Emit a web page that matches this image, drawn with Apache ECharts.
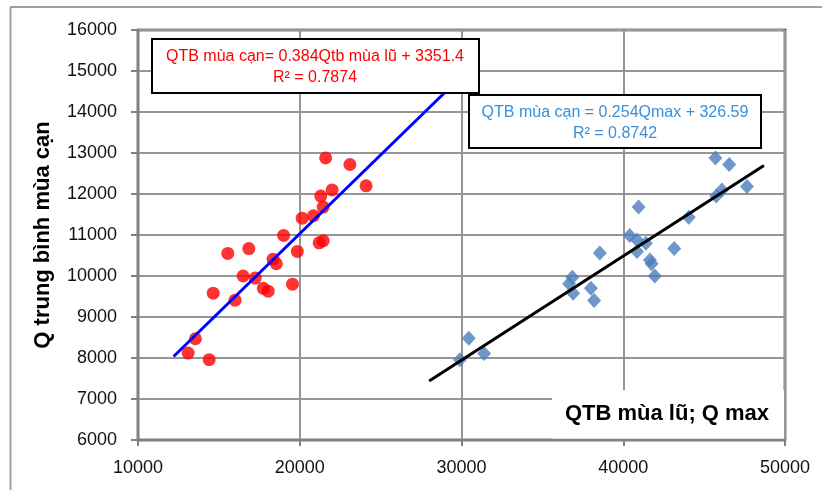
<!DOCTYPE html>
<html>
<head>
<meta charset="utf-8" />
<title>QTB mùa cạn</title>
<style type="text/css">
html{height:100%}
body{height:100%;margin:0px;padding:0px;background:#fff}
#chart{width:822px;height:490px}
</style>
<script src="https://cdn.jsdelivr.net/npm/echarts@6/dist/echarts.min.js"></script>
</head>
<body>
<div id="chart"></div>
<script type="text/javascript">
// QTB mùa lũ -> QTB mùa cạn (red dots)
var floodMean = [21600, 23100, 24100, 22000, 21300, 21450, 20850, 20150, 19000, 19850, 21200, 21450,
	16850, 15550, 18350, 18550, 16500, 17250, 17750, 18050, 19550, 14650, 16000, 13550, 13100, 14400];
var dryMeanA = [12880, 12720, 12200, 12100, 11950, 11680, 11470, 11410, 10990, 10600, 10810, 10860,
	10670, 10550, 10410, 10300, 10000, 9950, 9700, 9630, 9800, 9580, 9410, 8470, 8120, 7960];

// Q max -> QTB mùa cạn (blue diamonds)
var floodMax = [45700, 46550, 47650, 46100, 45750, 40950, 44050, 40400, 40850, 41400, 40850, 43150,
	38550, 41650, 41750, 41950, 36850, 36650, 36900, 38000, 38200, 30450, 31400, 29900];
var dryMeanB = [12880, 12720, 12180, 12100, 11950, 11680, 11430, 10990, 10880, 10800, 10600, 10670,
	10560, 10390, 10300, 10000, 9970, 9810, 9580, 9700, 9400, 8480, 8110, 7960];

// trendline ends
var fitA = [[12200, 8036], [29000, 14487]];
var fitB = [[28000, 7439], [48700, 12696]];

var xTicks = [10000, 50000, 10000];
var yTicks = [6000, 16000, 1000];

function pairs(xs, ys){
	var out = [];
	for(var i = 0; i < xs.length; i++){
		out.push([xs[i], ys[i]]);
	}
	return out;
}

var FONT = '"Liberation Sans", Arial, sans-serif';
var gridGray = '#969696';
var axisGray = '#808080';

var chart = echarts.init(document.getElementById('chart'));
var option = {
	animation: false,
	backgroundColor: '#fff',
	grid: {
		left: 138, right: 37, top: 30, bottom: 50,
		show: true,
		borderColor: '#000',
		borderWidth: 2.5,
		backgroundColor: 'transparent'
	},
	xAxis: {
		type: 'value',
		min: xTicks[0], max: xTicks[1], interval: xTicks[2],
		axisLine: {onZero: false, lineStyle: {color: axisGray, width: 2}},
		axisTick: {show: true, inside: false, length: 6, lineStyle: {color: axisGray, width: 2}},
		axisLabel: {margin: 19, color: '#111', fontSize: 18, fontFamily: FONT,
			formatter: function(v){ return String(v); }},
		splitLine: {show: true, lineStyle: {color: gridGray, width: 2}}
	},
	yAxis: {
		type: 'value',
		min: yTicks[0], max: yTicks[1], interval: yTicks[2],
		name: 'Q trung bình mùa cạn',
		nameLocation: 'middle',
		nameGap: 84,
		nameTextStyle: {fontSize: 22, fontWeight: 'bold', color: '#000', fontFamily: FONT},
		axisLine: {show: true, onZero: false, lineStyle: {color: axisGray, width: 2}},
		axisTick: {show: true, inside: false, length: 7, lineStyle: {color: axisGray, width: 2}},
		axisLabel: {margin: 21, color: '#111', fontSize: 18, fontFamily: FONT,
			formatter: function(v){ return String(v); }},
		splitLine: {show: true, lineStyle: {color: gridGray, width: 2}}
	},
	series: [
		{
			name: 'QTB mùa lũ',
			type: 'scatter',
			data: pairs(floodMean, dryMeanA),
			symbol: 'circle',
			symbolSize: 13,
			itemStyle: {color: '#ff0000'},
			z: 3
		},
		{
			name: 'fitA',
			type: 'line',
			data: fitA,
			showSymbol: false,
			lineStyle: {color: '#0000ff', width: 3},
			z: 4
		},
		{
			name: 'Q max',
			type: 'scatter',
			data: pairs(floodMax, dryMeanB),
			symbol: 'diamond',
			symbolSize: [14, 15],
			itemStyle: {color: '#4a7ebb'},
			z: 3
		},
		{
			name: 'fitB',
			type: 'line',
			data: fitB,
			showSymbol: false,
			lineStyle: {color: '#000', width: 3},
			z: 4
		}
	],
	graphic: [
		// outer frame (left and top only visible)
		{type: 'line', z: 100, shape: {x1: 10.5, y1: 7, x2: 10.5, y2: 490}, style: {stroke: '#a0a0a0', lineWidth: 2}},
		{type: 'line', z: 100, shape: {x1: 10, y1: 7, x2: 822, y2: 7}, style: {stroke: '#a0a0a0', lineWidth: 2}},
		// red equation box
		{type: 'rect', z: 100, shape: {x: 152, y: 39, width: 327, height: 54},
			style: {fill: '#fff', stroke: '#000', lineWidth: 2}},
		{type: 'text', z: 101, x: 315, y: 57,
			style: {text: 'QTB mùa cạn= 0.384Qtb mùa lũ + 3351.4', fill: '#ff0000', font: '16px ' + FONT,
				textAlign: 'center', textVerticalAlign: 'middle'}},
		{type: 'text', z: 101, x: 315, y: 78,
			style: {text: 'R² = 0.7874', fill: '#ff0000', font: '16px ' + FONT,
				textAlign: 'center', textVerticalAlign: 'middle'}},
		// blue equation box
		{type: 'rect', z: 100, shape: {x: 469, y: 95, width: 292, height: 53},
			style: {fill: '#fff', stroke: '#000', lineWidth: 2}},
		{type: 'text', z: 101, x: 615, y: 113,
			style: {text: 'QTB mùa cạn = 0.254Qmax + 326.59', fill: '#3a8fd6', font: '16px ' + FONT,
				textAlign: 'center', textVerticalAlign: 'middle'}},
		{type: 'text', z: 101, x: 615, y: 134,
			style: {text: 'R² = 0.8742', fill: '#3a8fd6', font: '16px ' + FONT,
				textAlign: 'center', textVerticalAlign: 'middle'}},
		// x axis title sitting inside the plot
		{type: 'rect', z: 100, shape: {x: 552, y: 390, width: 232, height: 48.5},
			style: {fill: '#fff'}},
		{type: 'text', z: 101, x: 667, y: 414,
			style: {text: 'QTB mùa lũ; Q max', fill: '#000', font: 'bold 22px ' + FONT,
				textAlign: 'center', textVerticalAlign: 'middle'}}
	]
};
chart.setOption(option);
</script>
</body>
</html>
